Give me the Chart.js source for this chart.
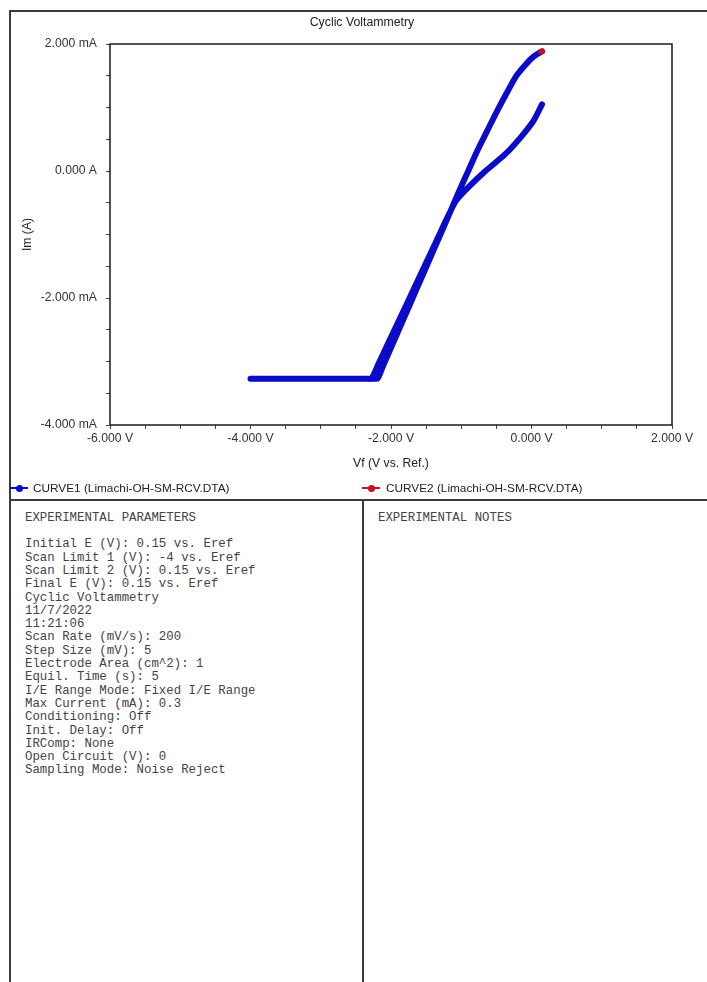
<!DOCTYPE html>
<html>
<head>
<meta charset="utf-8">
<title>Cyclic Voltammetry</title>
<script src="https://cdn.jsdelivr.net/npm/chart.js@4.4.1/dist/chart.umd.min.js"></script>
<style>
  html, body { margin: 0; padding: 0; background: #fff; }
  body { width: 707px; height: 982px; position: relative; overflow: hidden;
         font-family: "Liberation Sans", Arial, sans-serif; }
  #plot { position: absolute; left: 0; top: 0; }
  .rule { position: absolute; background: #3c3c3c; }
  #title { position: absolute; top: 15px; left: 262px; width: 200px; text-align: center;
           font-size: 12.3px; line-height: 14px; color: #222; }
  .leg { position: absolute; top: 481px; font-size: 11.8px; line-height: 14px; color: #222; white-space: nowrap; }
  .legLine { position: absolute; top: 487px; width: 18px; height: 2px; }
  .legDot { position: absolute; top: 484.5px; width: 7px; height: 7px; border-radius: 50%; }
  .mono { position: absolute; margin: 0; font-family: "Liberation Mono", "Courier New", monospace;
          font-size: 12.4px; line-height: 13.3px; color: #444; white-space: pre; }
</style>
</head>
<body>
<canvas id="plot" width="707" height="498"></canvas>

<div class="rule" style="left:9px; top:10px; width:698px; height:2px;"></div>
<div class="rule" style="left:9px; top:10px; width:2px; height:972px;"></div>
<div class="rule" style="left:9px; top:499px; width:698px; height:2px;"></div>
<div class="rule" style="left:362px; top:499px; width:2px; height:483px;"></div>

<div id="title">Cyclic Voltammetry</div>

<div class="legLine" style="left:10px; background:#0a0ac8;"></div>
<div class="legDot" style="left:15.5px; background:#0a0ac8;"></div>
<div class="leg" id="leg1" style="left:33px;"></div>
<div class="legLine" style="left:362px; background:#c0141e;"></div>
<div class="legDot" style="left:367.5px; background:#c0141e;"></div>
<div class="leg" id="leg2" style="left:386px;"></div>

<div class="mono" style="left:25px; top:512px;">EXPERIMENTAL PARAMETERS</div>
<div class="mono" id="params" style="left:25px; top:538.4px;"></div>
<div class="mono" style="left:378px; top:512px;">EXPERIMENTAL NOTES</div>

<script>
// Curve 1: full cycle, 0.15 V -> -4 V -> 0.15 V (potential in V, current in mA)
const curve1Volts = [0.15, 0.028, -0.157, -0.37, -0.655, -0.897, -1.068, -1.167, -1.369, -1.577,
  -1.792, -2.009, -2.189, -2.278, -2.33, -3.0, -4.0, -3.0, -2.24, -2.192, -2.111, -1.943, -1.744,
  -1.55, -1.358, -1.177, -1.062, -0.914, -0.773, -0.631, -0.488, -0.335, -0.214, -0.085, 0.028,
  0.128, 0.15];
const curve1Current = [1.05, 0.79, 0.526, 0.269, 0.0, -0.253, -0.458, -0.664, -1.137, -1.627,
  -2.133, -2.638, -3.065, -3.27, -3.27, -3.27, -3.27, -3.27, -3.27, -3.27, -3.065, -2.638, -2.133,
  -1.643, -1.153, -0.695, -0.395, -0.032, 0.316, 0.632, 0.948, 1.264, 1.501, 1.675, 1.801,
  1.872, 1.885];

// Curve 2: start of the next cycle at the upper end
const curve2Volts = [0.138, 0.15];
const curve2Current = [1.876, 1.885];

const curveNames = ['CURVE1 (Limachi-OH-SM-RCV.DTA)', 'CURVE2 (Limachi-OH-SM-RCV.DTA)'];

// Axis ranges and tick spacing (V and mA)
const xRange = [-6, 2];
const yRange = [-4, 2];
const minorStep = 0.5;
const majorStep = 2;

const axisTitles = { x: 'Vf (V vs. Ref.)', y: 'Im (A)' };

const paramLines = [
  'Initial E (V): 0.15 vs. Eref',
  'Scan Limit 1 (V): -4 vs. Eref',
  'Scan Limit 2 (V): 0.15 vs. Eref',
  'Final E (V): 0.15 vs. Eref',
  'Cyclic Voltammetry',
  '11/7/2022',
  '11:21:06',
  'Scan Rate (mV/s): 200',
  'Step Size (mV): 5',
  'Electrode Area (cm^2): 1',
  'Equil. Time (s): 5',
  'I/E Range Mode: Fixed I/E Range',
  'Max Current (mA): 0.3',
  'Conditioning: Off',
  'Init. Delay: Off',
  'IRComp: None',
  'Open Circuit (V): 0',
  'Sampling Mode: Noise Reject'
];

document.getElementById('params').textContent = paramLines.join('\n');
document.getElementById('leg1').textContent = curveNames[0];
document.getElementById('leg2').textContent = curveNames[1];

const BLUE = '#0a0ac8';
const RED = '#c0141e';
const tickFont = { family: '"Liberation Sans", Arial, sans-serif', size: 12.2 };

const isMajor = v => Math.abs(v / majorStep - Math.round(v / majorStep)) < 1e-6;
const toPoints = (xs, ys) => xs.map((x, i) => ({ x, y: ys[i] }));

// Closed box around the plotting area
const frameBox = {
  id: 'frameBox',
  beforeDatasetsDraw(chart) {
    const { ctx, chartArea: a } = chart;
    ctx.save();
    ctx.strokeStyle = '#1a1a1a';
    ctx.lineWidth = 1.5;
    ctx.strokeRect(a.left, a.top, a.right - a.left, a.bottom - a.top);
    ctx.restore();
  }
};

const tickGrid = { drawOnChartArea: false, drawTicks: true, tickLength: 4, color: '#444', lineWidth: 1 };

new Chart(document.getElementById('plot'), {
  type: 'scatter',
  data: {
    datasets: [
      {
        label: curveNames[0],
        data: toPoints(curve1Volts, curve1Current),
        showLine: true, fill: false,
        borderColor: BLUE, backgroundColor: BLUE,
        borderWidth: 6, pointRadius: 0, tension: 0.25,
        borderCapStyle: 'round', borderJoinStyle: 'round',
        order: 1
      },
      {
        label: curveNames[1],
        data: toPoints(curve2Volts, curve2Current),
        showLine: true, fill: false,
        borderColor: RED, backgroundColor: RED,
        borderWidth: 6, pointRadius: 0, tension: 0,
        borderCapStyle: 'round',
        order: 0
      }
    ]
  },
  options: {
    responsive: false,
    animation: false,
    devicePixelRatio: 1,
    layout: { padding: { top: 44, right: 35, left: 0, bottom: 0 } },
    plugins: { legend: { display: false }, tooltip: { enabled: false } },
    scales: {
      x: {
        type: 'linear', min: xRange[0], max: xRange[1],
        afterFit(scale) { scale.height = 73; },
        border: { display: false },
        grid: tickGrid,
        ticks: {
          stepSize: minorStep, autoSkip: false, maxRotation: 0, padding: 2,
          color: '#333', font: tickFont,
          callback: v => isMajor(v) ? v.toFixed(3) + ' V' : ''
        },
        title: { display: true, text: axisTitles.x, color: '#222', font: tickFont,
                 padding: { top: 0, bottom: 27 } }
      },
      y: {
        type: 'linear', min: yRange[0], max: yRange[1],
        afterFit(scale) { scale.width = 110; },
        border: { display: false },
        grid: tickGrid,
        ticks: {
          stepSize: minorStep, autoSkip: false, padding: 9,
          color: '#333', font: tickFont,
          callback: v => {
            if (!isMajor(v)) return '';
            if (Math.abs(v) < 1e-9) return '0.000 A';
            return v.toFixed(3) + ' mA';
          }
        },
        title: { display: true, text: axisTitles.y, color: '#222', font: tickFont,
                 padding: { top: 20, bottom: 0 } }
      }
    }
  },
  plugins: [frameBox]
});
</script>
</body>
</html>
